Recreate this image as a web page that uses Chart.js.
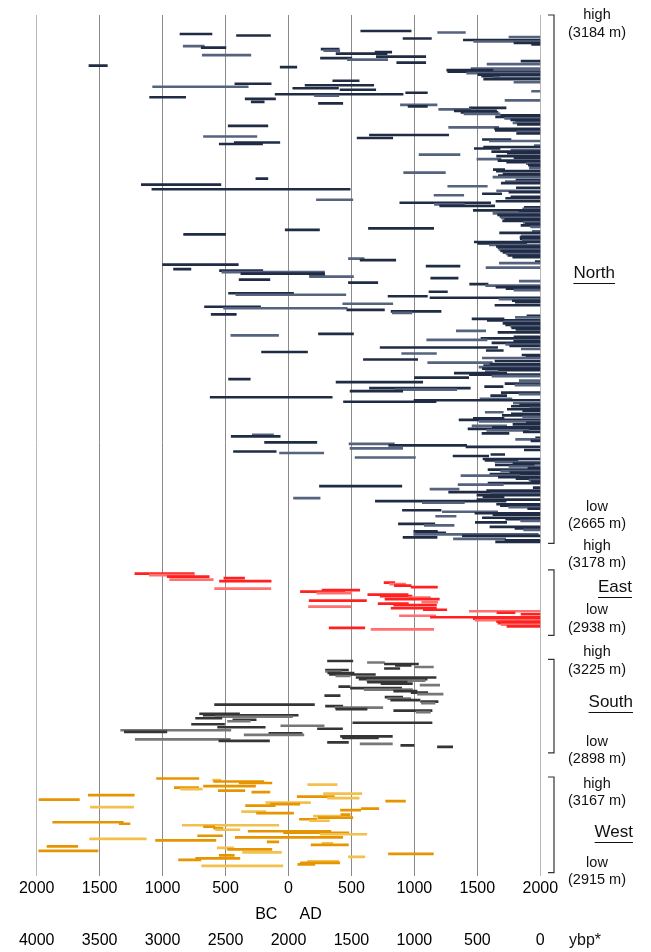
<!DOCTYPE html>
<html>
<head>
<meta charset="utf-8">
<script src="https://cdn.jsdelivr.net/npm/chart.js@4/dist/chart.umd.min.js"></script>
<style>
  body { margin: 0; background: #fff; }
  #wrap { width: 651px; height: 952px; position: relative; }
</style>
</head>
<body>
<div id="wrap"><canvas id="chart"></canvas></div>
<script>
// year spans (negative = BC), one row per sample, top row = highest site
const northRanges = [
  [574,974],[1185,1405],[-862,-608],[-413,-143],[1751,2000],[910,1135],[1389,2000],[1471,2000],[1791,2000],[1931,2000],
  [-836,-669],[-693,-497],[259,402],[280,407],[688,820],[378,783],[-685,-299],[698,1090],[254,503],[468,788],
  [1847,2000],[860,1090],[1577,2000],[-1585,-1439],[-66,66],[1450,2000],[1257,1624],[1265,2000],[1415,2000],[1505,2000],
  [1534,1675],[1627,2000],[1550,2000],[352,561],[1791,2000],[-426,-138],[132,677],[-1079,-320],[34,397],[410,693],
  [1931,2000],[931,1103],[-106,910],[206,400],[-1103,-817],[-344,-103],
  [1720,2000],[-296,-193],[238,431],[889,1180],[950,1103],[1437,1728],[1193,1447],[1317,1653],[1370,1664],[1394,1680],
  [1685,2000],[1645,2000],[1717,2000],[1765,2000],[1804,2000],[1783,2000],[1818,2000],[-479,-164],[1272,1669],[1637,2000],
  [1643,2000],[1815,2000],[1812,2000],[643,1272],[-675,-251],[545,828],[1540,1767],[1595,2000],[-431,-69],[-550,-206],
  [1952,2000],[1550,2000],[1476,1680],[1767,2000],[1614,2000],[1738,2000],[1037,1362],[1653,2000],[1791,2000],[1497,1688],
  [1664,2000],[1733,2000],[1889,2000],[1905,2000],[1918,2000],[1913,2000],[1627,1717],[1651,2000],[915,1246],[1704,2000],
  [1667,2000],[1624,2000],[-259,-164],[1807,2000],[1722,2000],[1690,2000],[-1169,-537],[1265,1579],[1810,2000],[-1085,489],
  [1653,2000],
  [1751,2000],[1540,1693],[1156,1392],[1767,2000],[1725,2000],[222,511],[1648,2000],[884,1606],[1159,1397],[1201,1638],
  [1873,2000],[1860,2000],[1468,2000],[1831,2000],[1624,2000],[1661,2000],[1680,2000],[1690,2000],[1717,2000],[1701,2000],
  [1865,2000],[1881,2000],[1847,2000],[1923,2000],[635,1153],[-26,246],[1937,2000],[1677,2000],[-833,-500],[1847,2000],
  [1839,2000],[1841,2000],[1857,2000],[1476,2000],[1503,1892],[1595,2000],[1651,2000],[1664,2000],[1672,2000],[1685,2000],
  [1704,2000],[1728,2000],[1743,2000],[1781,2000],[476,601],[569,852],[1960,2000],[1675,2000],[-1000,-399],[1093,1362],
  [1569,2000],[-913,-775],[-548,-204],[-529,286],[-378,286],[167,288],[167,516],[1130,1347],[-392,-148],[1833,2000],
  [476,709],
  [1439,1585],[1566,2000],[1648,2000],[1728,2000],[1791,2000],[1116,1262],[-476,40],[-418,455],[791,1103],[1124,2000],
  [1672,2000],[1778,2000],[1802,2000],[431,828],[1640,2000],[-667,-222],[-516,466],[463,762],[815,1212],[825,981],
  [-614,-415],[1894,2000],[1802,2000],[1458,1712],[1579,2000],[1709,2000],[1704,2000],[1725,2000],[1765,2000],[1773,2000],
  [1807,2000],[1333,1566],[1664,2000],[238,516],[-458,-79],[1791,2000],[1529,2000],[1098,1577],[1789,2000],[1616,2000],
  [1725,2000],[1757,2000],[728,1661],[1849,2000],[1571,1706],[-214,151],[899,1175],[1855,2000],[1886,2000],[1540,2000],
  [595,1026],[1640,2000],[1106,1619],[1600,2000],[1550,2000],[1513,2000],[1540,2000],[1667,2000],[1563,1664],
  [1317,1733],[1437,2000],[1616,2000],[1000,1431],[-476,-304],[1833,2000],[378,1066],[1720,2000],[1799,2000],[1558,1704],
  [643,1444],[847,1336],[489,907],[1690,2000],[1831,2000],[1606,1733],[-622,347],[1521,1775],[997,2000],[437,1172],
  [1786,2000],[1836,2000],[1770,2000],[1918,2000],[1738,2000],[1860,2000],[1563,1706],[1770,2000],[1698,2000],[1860,2000],
  [1468,1712],[1355,2000],[1513,2000],[1889,2000],[1783,2000],[1458,1733],[1619,2000],[1426,2000],[1574,1907],[1865,2000],
  [1537,1751],[-288,-119],[-455,-66],[1963,2000],[1804,2000],[1926,2000],[-190,225],[481,841],[796,1415],[1410,2000],
  [489,907],[1873,2000],[-437,-98],[-71,280],[1608,1717],[1307,1590],[529,1008],[1545,2000],[1561,1823],[1640,2000],
  [1783,2000],[1643,1952],[1751,2000],[1902,2000],[1585,2000],[1685,2000],[1759,2000],[1600,2000],[1370,1839],[1667,2000],
  [1807,2000],[1910,2000],[1926,2000],[1585,2000],[1347,1706],[246,900],[1944,2000],[1124,1355],[1574,2000],[1272,2000],
  [1608,2000],[1497,2000],[1545,1712],[40,251],[1497,2000],[690,1728],[1063,1397],[1653,2000],[1683,2000],[1749,2000],
  [1900,2000],[905,1212],[1222,1661],[1481,2000],[1624,2000],[1169,1331],[1540,2000],[1725,2000],[1844,2000],[1484,1733],
  [873,1162],[1079,1315],[1600,2000],[1799,2000],[1868,2000],[995,1183],[1011,1249],[995,1984],[1381,2000],[910,1180],
  [1310,1725],[1720,2000],[1645,2000]
];

const eastRanges = [
  [-1220,-749],[-1106,-749],[-963,-630],[-513,-349],[-944,-598],[-548,-138],[759,844],[804,931],[841,974],[974,1183],
  [-587,-140],[267,566],[95,447],[225,503],[630,950],[728,981],[952,1127],[767,1198],[164,619],[1058,1185],
  [712,952],[836,1175],[159,495],[815,1175],[1071,1257],[1437,2000],[1656,1799],[1847,2000],[881,1169],[1127,2000],
  [1468,2000],[1481,2000],[1653,2000],[1664,2000],[1688,2000],[1735,2000],[323,606],[656,1153]
];

const southRanges = [
  [310,511],[627,762],[762,1032],[849,974],[1000,1151],[762,884],[294,476],[294,418],[312,521],[325,690],
  [376,489],[537,1172],[561,1101],[622,1085],[627,942],[735,984],[1045,1201],[399,489],[492,899],[601,984],
  [836,1021],[974,1106],[1024,1228],[288,410],[767,907],[788,971],[812,1045],[1050,1188],[1056,1164],[-587,206],
  [294,431],[370,749],[376,624],[836,1140],[1013,1127],[-706,-389],[-677,77],[-582,32],[-738,-529],[-442,-257],
  [-484,-304],[511,1140],[-770,-508],[-61,283],[-563,-185],[230,429],[-1333,-458],[-1304,-966],[-156,108],[-352,122],
  [413,825],[429,714],[-1217,-463],[-553,-151],[310,476],[569,825],[892,997],[1183,1304]
];

const westRanges = [
  [-1048,-712],[-603,-537],[-595,-196],[-392,-132],[153,386],[-675,-262],[-907,-714],[-857,-685],[-558,-347],[-291,-148],
  [278,582],[-1590,-1225],[69,365],[310,561],[-1982,-1661],[772,929],[-180,175],[-143,90],[-341,-106],[-1574,-1230],
  [579,717],[413,574],[-373,-180],[-254,40],[415,489],[198,407],[235,511],[87,225],[167,325],[-1873,-1312],
  [-1344,-1259],[-844,-77],[-675,-585],[-595,-521],[-579,-386],[-320,336],[-40,479],[251,622],[-722,-524],[-423,431],
  [-1580,-1130],[-1056,-577],[-169,-77],[265,352],[180,476],[-1918,-1674],[-566,-434],[-484,-132],[-1984,-1513],[-365,-56],
  [794,1151],[-550,-431],[476,606],[-738,-386],[-873,-696],[151,399],[95,407],[74,209],[-690,-45]
];

const yearTicks = [-2000, -1500, -1000, -500, 0, 500, 1000, 1500, 2000];
const regionNames = ['North', 'East', 'South', 'West'];
const highLabels = ['(3184 m)', '(3178 m)', '(3225 m)', '(3167 m)'];
const lowLabels = ['(2665 m)', '(2938 m)', '(2898 m)', '(2915 m)'];

const FONT = '"Liberation Sans", Arial, sans-serif';
const GAP = 21; // empty rows between regions

const regions = [
  { ranges: northRanges, dark: '#202b44', light: '#56637e' },
  { ranges: eastRanges, dark: '#ff2020', light: '#ff7070' },
  { ranges: southRanges, dark: '#353535', light: '#777777' },
  { ranges: westRanges, dark: '#e69500', light: '#f3c04e' }
];

let row = 0;
regions.forEach(r => {
  r.first = row;
  r.last = row + r.ranges.length - 1;
  row = r.last + GAP;
});
const lastRow = regions[regions.length - 1].last;

const datasets = regions.map((r, k) => ({
  label: regionNames[k],
  data: r.ranges.map((span, i) => ({ x: span, y: r.first + i })),
  backgroundColor: c => (c.dataIndex % 3 === 1 ? r.light : r.dark),
  borderWidth: 0,
  barThickness: 2
}));

// brackets, elevation notes and region names on the right
const sideNotes = {
  id: 'sideNotes',
  afterDraw(chart) {
    const ctx = chart.ctx;
    const ys = chart.scales.y;
    const bx = 554;
    const tops = [chart.chartArea.top, ys.getPixelForValue(regions[1].first - 2.5),
                  ys.getPixelForValue(regions[2].first - 1), ys.getPixelForValue(regions[3].first - 1)];
    const bottoms = [ys.getPixelForValue(regions[0].last + 1), ys.getPixelForValue(regions[1].last + 4),
                     ys.getPixelForValue(regions[2].last + 4), ys.getPixelForValue(regions[3].last + 4.5)];
    ctx.save();
    ctx.strokeStyle = '#333';
    ctx.lineWidth = 1.2;
    for (let k = 0; k < 4; k++) {
      ctx.beginPath();
      ctx.moveTo(bx - 6, tops[k]);
      ctx.lineTo(bx, tops[k]);
      ctx.lineTo(bx, bottoms[k]);
      ctx.lineTo(bx - 6, bottoms[k]);
      ctx.stroke();
    }

    const noteY = [[15, 33, 507, 524], [546, 563, 610, 628], [652, 670, 742, 759], [784, 801, 863, 880]];
    ctx.fillStyle = '#111';
    ctx.textAlign = 'center';
    ctx.textBaseline = 'middle';
    ctx.font = '14.5px ' + FONT;
    for (let k = 0; k < 4; k++) {
      ctx.fillText('high', 597, noteY[k][0]);
      ctx.fillText(highLabels[k], 597, noteY[k][1]);
      ctx.fillText('low', 597, noteY[k][2]);
      ctx.fillText(lowLabels[k], 597, noteY[k][3]);
    }

    const nameRight = [615, 632, 633, 633];
    const nameY = [273, 587, 702, 832];
    ctx.font = '17px ' + FONT;
    ctx.textAlign = 'right';
    ctx.lineWidth = 1;
    ctx.strokeStyle = '#111';
    for (let k = 0; k < 4; k++) {
      ctx.fillText(regionNames[k], nameRight[k], nameY[k]);
      const w = ctx.measureText(regionNames[k]).width;
      ctx.beginPath();
      ctx.moveTo(nameRight[k] - w, nameY[k] + 10.5);
      ctx.lineTo(nameRight[k], nameY[k] + 10.5);
      ctx.stroke();
    }

    ctx.font = '16px ' + FONT;
    ctx.textAlign = 'center';
    ctx.fillText('ybp*', 585, 941);
    ctx.restore();
  }
};

new Chart(document.getElementById('chart'), {
  type: 'bar',
  data: { datasets },
  options: {
    indexAxis: 'y',
    responsive: true,
    maintainAspectRatio: false,
    animation: false,
    grouped: false,
    layout: { padding: { left: 36.7, right: 110.7, top: 15, bottom: 0 } },
    plugins: { legend: { display: false }, tooltip: { enabled: false } },
    scales: {
      y: {
        type: 'linear',
        display: false,
        reverse: true,
        offset: false,
        min: -10.6,
        max: lastRow + 2.7
      },
      x: {
        type: 'linear',
        min: yearTicks[0],
        max: yearTicks[yearTicks.length - 1],
        afterBuildTicks: s => { s.ticks = yearTicks.map(v => ({ value: v })); },
        afterFit: s => { s.height = 54; },
        grid: {
          color: c => (c.index === 0 || c.index === yearTicks.length - 1 ? '#b8b8b8' : '#8a8a8a'),
          lineWidth: 1,
          drawTicks: true,
          tickLength: 6
        },
        border: { display: false },
        ticks: {
          padding: 3,
          color: '#000',
          font: { family: FONT, size: 16 },
          callback: v => String(Math.abs(v))
        },
        title: {
          display: true,
          text: 'BC     AD',
          color: '#000',
          font: { family: FONT, size: 16 },
          padding: { top: 0, bottom: 0 }
        }
      },
      x2: {
        type: 'linear',
        position: 'bottom',
        weight: 1,
        min: yearTicks[0],
        max: yearTicks[yearTicks.length - 1],
        afterBuildTicks: s => { s.ticks = yearTicks.map(v => ({ value: v })); },
        afterFit: s => { s.height = 28; },
        grid: { display: false, drawTicks: false },
        border: { display: false },
        ticks: {
          padding: 7,
          color: '#000',
          font: { family: FONT, size: 16 },
          callback: v => String(2000 - v)
        }
      }
    }
  },
  plugins: [sideNotes]
});
</script>
</body>
</html>
